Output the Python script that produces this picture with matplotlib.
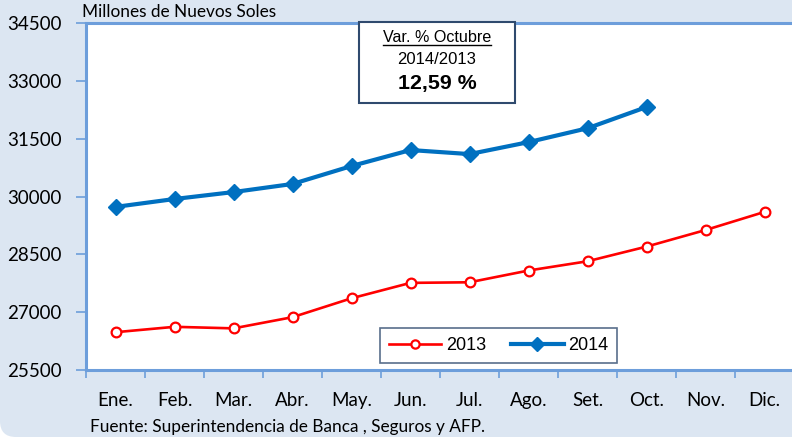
import matplotlib
matplotlib.use("Agg")
import matplotlib.pyplot as plt
from matplotlib.patches import FancyBboxPatch, Rectangle
from matplotlib.lines import Line2D
import numpy as np

months = ["Ene.", "Feb.", "Mar.", "Abr.", "May.", "Jun.", "Jul.", "Ago.", "Set.", "Oct.", "Nov.", "Dic."]
values_2013 = [26480, 26620, 26580, 26870, 27360, 27760, 27775, 28080, 28320, 28700, 29130, 29600]
values_2014 = [29730, 29935, 30115, 30325, 30790, 31205, 31100, 31410, 31770, 32320]
y_ticks = [25500, 27000, 28500, 30000, 31500, 33000, 34500]
series_labels = ["2013", "2014"]
unit_label = "Millones de Nuevos Soles"
source_label = "Fuente: Superintendencia de Banca , Seguros y AFP."
box_lines = ["Var. % Octubre", "2014/2013", "12,59 %"]

W, H = 792, 437
fig = plt.figure(figsize=(W / 100, H / 100), dpi=100)
fig.patch.set_facecolor("white")

bg = "#DCE6F2"
spine_c = "#6D9EDB"
fig.patches.append(FancyBboxPatch((0, 0), W + 40, H + 40, boxstyle="round,pad=0,rounding_size=16",
                                  transform=None, facecolor=bg, edgecolor="none", zorder=-10))

ax = fig.add_axes([86 / W, (H - 370) / H, (794 - 86) / W, (370 - 23) / H])
ax.set_facecolor("white")
x = np.arange(len(months))
ax.set_xlim(-0.5, len(months) - 0.5)
ax.set_ylim(y_ticks[0], y_ticks[-1])

ax.plot(np.arange(len(values_2013)), values_2013, color="#FF0000", lw=1.9, marker="o", ms=7,
        mfc="white", mec="#FF0000", mew=1.6, label=series_labels[0], zorder=3)
ax.plot(np.arange(len(values_2014)), values_2014, color="#0070C0", lw=3.0, marker="D", ms=8.5,
        mfc="#0070C0", mec="#0070C0", label=series_labels[1], zorder=4)

ax.set_yticks(y_ticks)
ax.set_yticklabels([str(v) for v in y_ticks], fontfamily="Lato", fontsize=13.5, color="black")
ax.set_xticks(np.arange(-0.5, len(months), 1.0), minor=False)
ax.set_xticklabels([""] * len(np.arange(-0.5, len(months), 1.0)))
ax.set_xticks(x, minor=True)
ax.set_xticklabels(months, minor=True, fontfamily="Lato", fontsize=13.5)
ax.tick_params(axis="x", which="minor", length=0, pad=16)
ax.tick_params(axis="x", which="major", length=6, width=1.2, color=spine_c, direction="out")
ax.tick_params(axis="y", length=7, width=1.2, color=spine_c, direction="out", pad=10.5)
for s in ["left", "bottom", "top"]:
    ax.spines[s].set_color(spine_c)
    ax.spines[s].set_linewidth(2.2)
ax.spines["right"].set_visible(False)

# unit label
fig.text(82 / W, 1 - 12 / H, unit_label, fontfamily="Lato", fontsize=12.4, va="center", ha="left")
# source
fig.text(90 / W, 1 - 427 / H, source_label, fontfamily="Lato", fontsize=12.4, va="center", ha="left")

# legend
leg = ax.legend(loc="lower left", bbox_to_anchor=((380 - 86) / (794 - 86), (370 - 363) / 347),
                ncol=2, frameon=True, fancybox=False, handlelength=2.9,
                prop={"family": "Liberation Sans", "size": 13}, borderaxespad=0, markerscale=0.85,
                columnspacing=1.4, handletextpad=0.25, borderpad=0.5)
leg.get_frame().set_edgecolor("#2F4A6E")
leg.get_frame().set_linewidth(1.2)

# annotation box
bx0, by0, bx1, by1 = 359, 22, 515, 103
fig.patches.append(Rectangle((bx0 / W, 1 - by1 / H), (bx1 - bx0) / W, (by1 - by0) / H,
                             transform=fig.transFigure, facecolor="white", edgecolor="#2F4A6E",
                             lw=1.5, zorder=5))
cx = (bx0 + bx1) / 2 / W
t1 = fig.text(cx, 1 - 38 / H, box_lines[0], fontfamily="Liberation Sans", fontsize=11.6,
              ha="center", va="center", zorder=6)
fig.text(cx, 1 - 60 / H, box_lines[1], fontfamily="Liberation Sans", fontsize=12.0,
         ha="center", va="center", zorder=6)
fig.text(cx, 1 - 84 / H, box_lines[2], fontfamily="Liberation Sans", fontsize=15.4, fontweight="bold",
         ha="center", va="center", zorder=6)
fig.canvas.draw()
bb = t1.get_window_extent()
fig.lines.append(Line2D([bb.x0, bb.x1], [bb.y0 + 1, bb.y0 + 1], transform=None, color="black",
                        lw=1.0, zorder=7))

fig.savefig("out.png", dpi=100)
